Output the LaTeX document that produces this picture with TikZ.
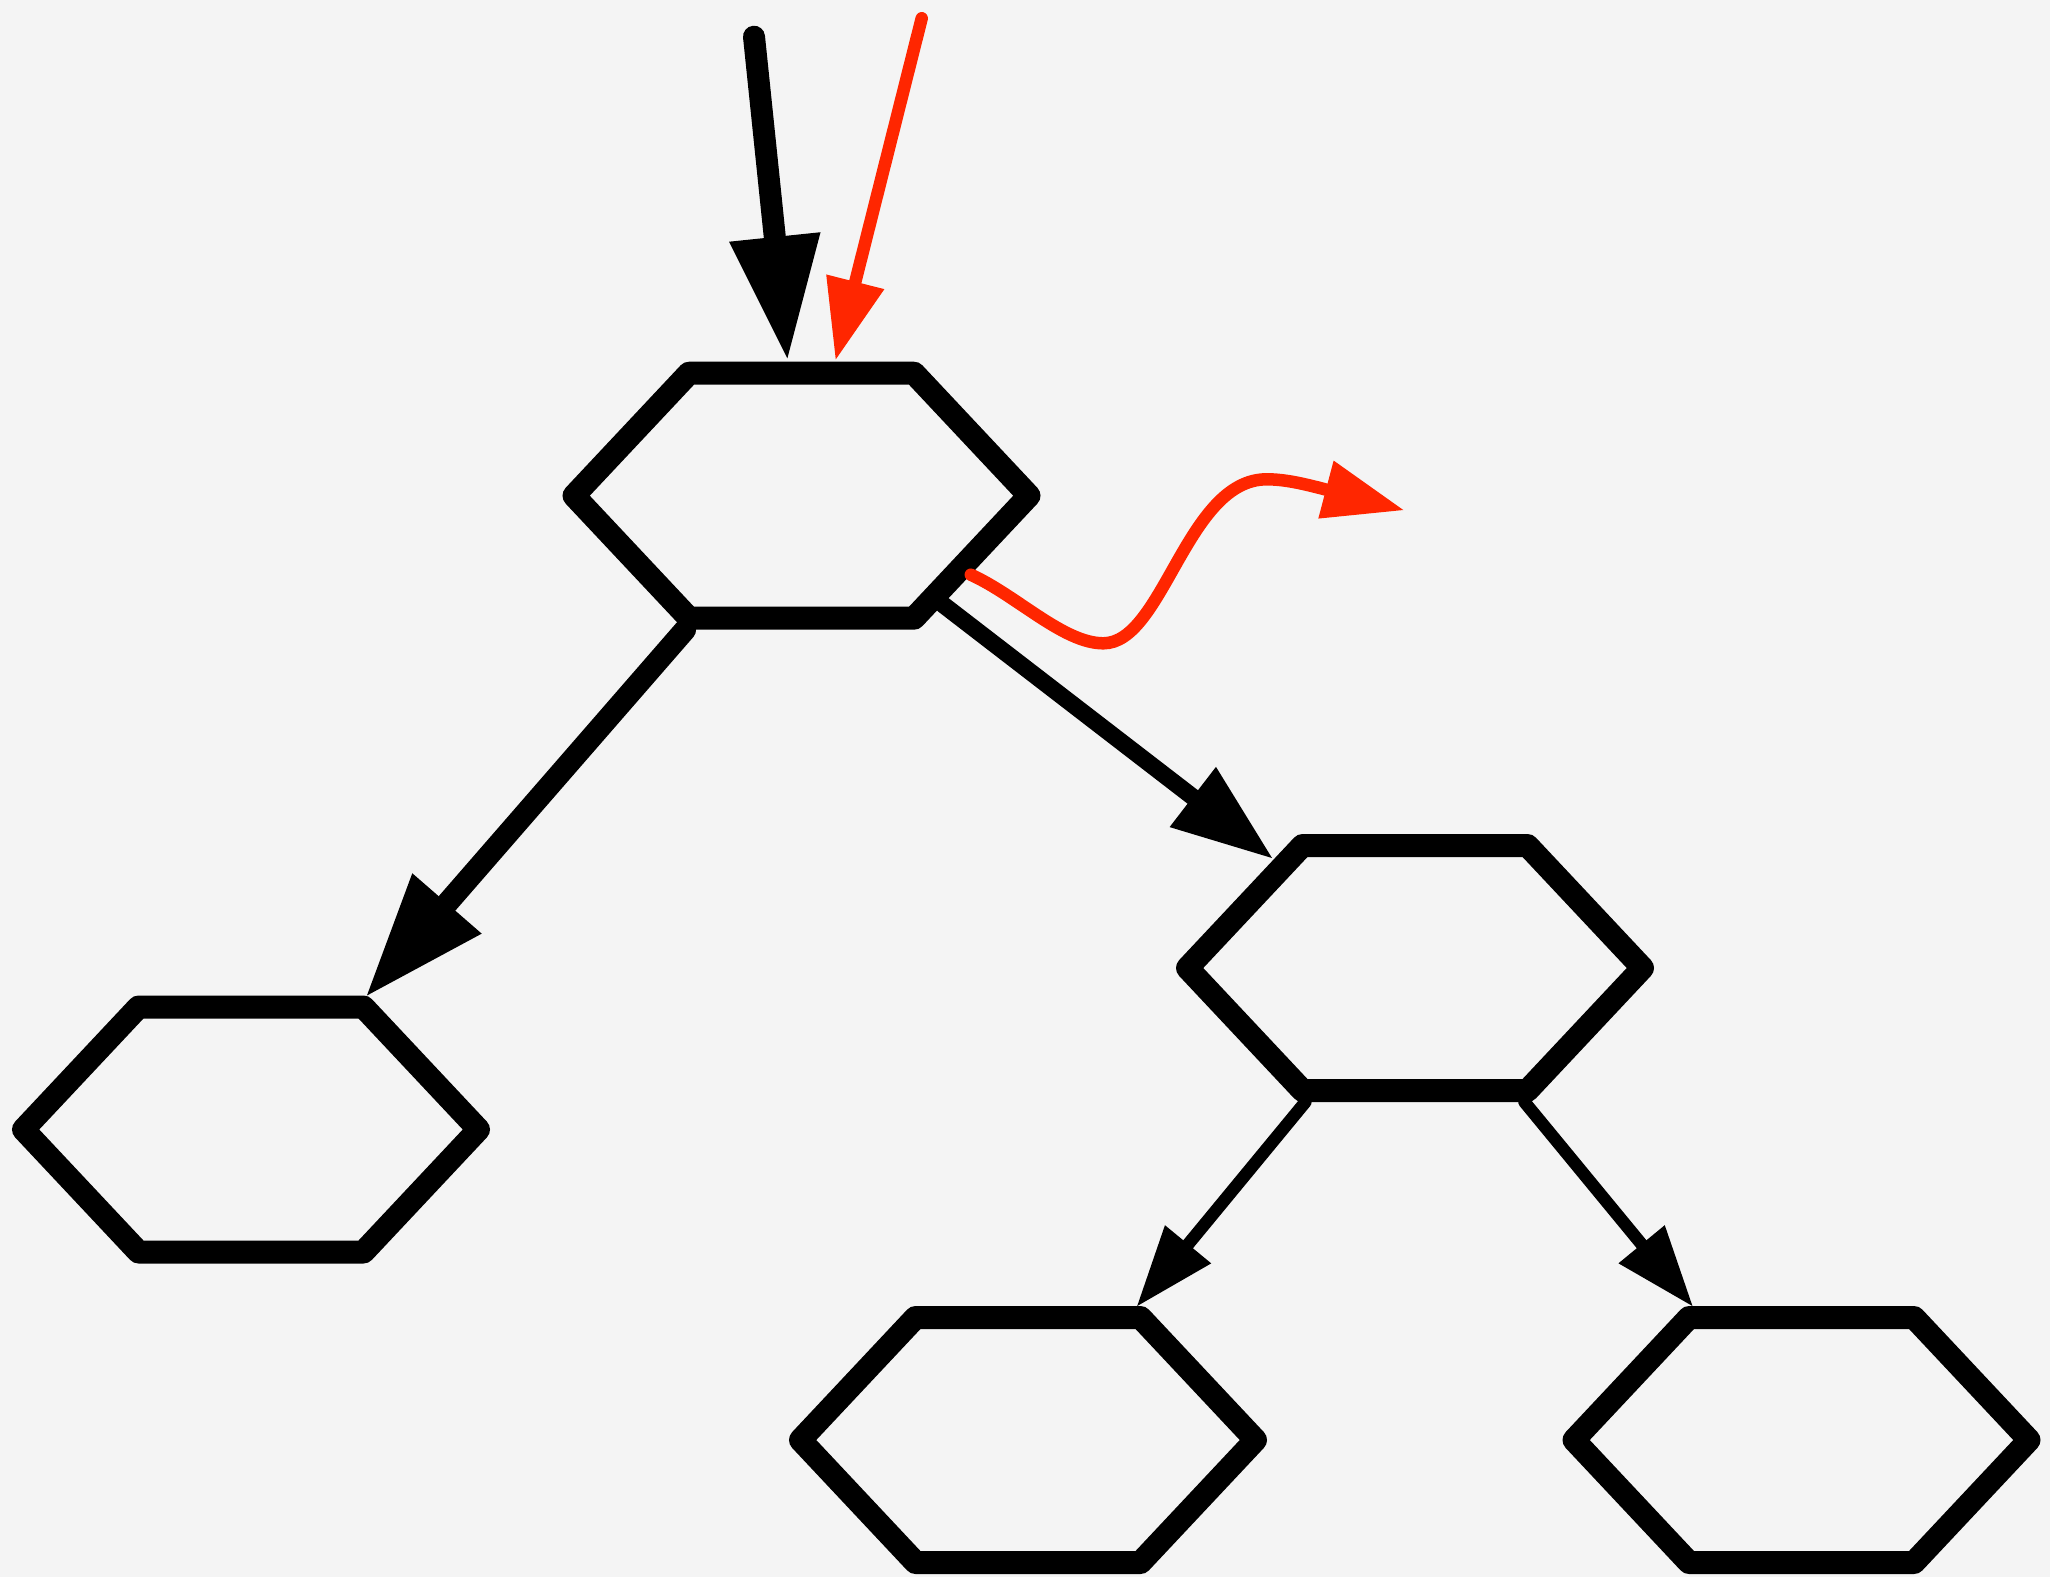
\documentclass[tikz,border=0pt]{standalone}
\usetikzlibrary{arrows.meta,calc}
\definecolor{bgc}{HTML}{F4F4F4}
\definecolor{redc}{RGB}{255,38,0}
\tikzset{
  hexbox/.style={rectangle,draw=none,minimum width=455pt,minimum height=245pt,inner sep=0pt,outer sep=11.5pt},
  hexline/.style={draw=black,line width=23pt,line join=round},
  conn/.style={line cap=round},
  arrheavy/.style={conn,draw=black,line width=22pt,-{Triangle[length=122pt,width=92pt,line width=0pt]}},
  arrmid/.style={conn,draw=black,line width=17pt,-{Triangle[length=100pt,width=76pt,line width=0pt]}},
  arrlight/.style={conn,draw=black,line width=12.5pt,-{Triangle[length=80pt,width=60pt,line width=0pt]}},
  arrred/.style={conn,draw=redc,line width=12.5pt,line join=round,-{Triangle[length=80pt,width=60pt,line width=0pt]}},
}
\newcommand\hexat[3]{%
  \node[hexbox] (#1) at (#2,#3) {};
  \draw[hexline] ($(#1.center)+(-227.5,0)$) -- ++(115,-122.5) -- ++(225,0) -- ++(115,122.5) -- ++(-115,122.5) -- ++(-225,0) -- cycle;
}
\begin{document}
\begin{tikzpicture}[x=1pt,y=-1pt]
\fill[bgc] (0,0) rectangle (2050,1577);
\useasboundingbox (0,0) rectangle (2050,1577);
\hexat{A}{801.5}{495.7}
\hexat{B}{251}{1129.5}
\hexat{C}{1415}{968}
\hexat{D}{1028}{1440}
\hexat{E}{1801.5}{1440}
\coordinate (s1) at (754,36.7);
\coordinate (s2) at (921.7,18.3);
\coordinate (rs) at ($(A.center)+(169.3,79)$);
\coordinate (rt) at (1403.3,510);
\draw[arrheavy, shorten >=3.4pt] (s1) -- (A);
\draw[arrred, shorten >=2.4pt] (s2) -- (A);
\draw[arrheavy] (A) -- (B);
\draw[arrmid] ($(A.center)+(141.3,108.7)$) -- ($(C.center)+(-143,-110)$);
\draw[arrlight] (C) -- (D);
\draw[arrlight] (C) -- (E);
\draw[arrred] (rs) .. controls (1016.4,595.2) and (1063.3,643.3) .. (1103.3,643.3)
  .. controls (1163.3,643.3) and (1186.7,479.3) .. (1266.7,479.3)
  .. controls (1284.7,479.3) and (1302.5,483.6) .. (1320,488) -- (rt);
\end{tikzpicture}
\end{document}
